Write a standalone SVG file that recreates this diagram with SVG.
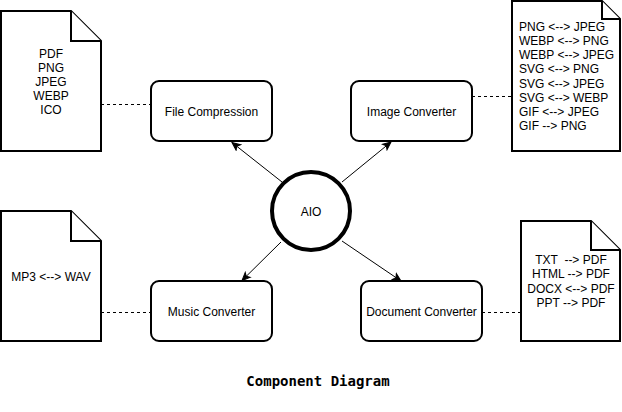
<svg xmlns="http://www.w3.org/2000/svg" width="622" height="412" viewBox="0 0 622 412">
<style>
.doc{fill:#fff;stroke:#000;stroke-width:2;stroke-linejoin:miter}
.box{fill:#fff;stroke:#000;stroke-width:2}
.t{font-family:"Liberation Sans",Arial,sans-serif;font-size:12px;fill:#000}
.c{text-anchor:middle}
.dash{stroke:#000;stroke-width:1;stroke-dasharray:3,3;fill:none}
.arr{stroke:#000;stroke-width:1;fill:none;marker-end:url(#ah)}
.title{font-family:"DejaVu Sans Mono","Liberation Mono",monospace;font-size:14px;font-weight:bold;text-anchor:middle;fill:#000}
</style>
<defs>
<marker id="ah" markerUnits="userSpaceOnUse" markerWidth="10" markerHeight="10" viewBox="0 0 10 10" refX="9" refY="5" orient="auto">
<path d="M1,1.5 L9,5 L1,8.5 L3,5 Z" fill="#000" stroke="#000" stroke-width="1"/>
</marker>
</defs>
<rect width="622" height="412" fill="#fff"/>
<g id="connectors">
<line class="dash" x1="101" y1="104.5" x2="151" y2="104.5"/>
<line class="dash" x1="472" y1="96.5" x2="512" y2="96.5"/>
<line class="dash" x1="101" y1="312.5" x2="151" y2="312.5"/>
<line class="dash" x1="482" y1="312.5" x2="521" y2="312.5"/>
<line class="arr" x1="282" y1="182" x2="232" y2="142.5"/>
<line class="arr" x1="342" y1="182" x2="391" y2="142"/>
<line class="arr" x1="281" y1="242" x2="242" y2="280.5"/>
<line class="arr" x1="342" y1="241" x2="401" y2="281"/>
</g>
<g id="doc-compression">
<path class="doc" d="M1,11 H71 L101,41 V151 H1 Z"/>
<path class="doc" d="M71,11 V41 H101" fill="none"/>
<text class="t c" x="51" y="57.5">PDF</text>
<text class="t c" x="51" y="71.5">PNG</text>
<text class="t c" x="51" y="85.5">JPEG</text>
<text class="t c" x="51" y="100">WEBP</text>
<text class="t c" x="51" y="114">ICO</text>
</g>
<g id="doc-image">
<path class="doc" d="M512,1 H602 L620,19 V151 H512 Z"/>
<path class="doc" d="M602,1 V19 H620" fill="none"/>
<text class="t" x="519" y="31">PNG &lt;--&gt; JPEG</text>
<text class="t" x="519" y="45.1">WEBP &lt;--&gt; PNG</text>
<text class="t" x="519" y="59.3">WEBP &lt;--&gt; JPEG</text>
<text class="t" x="519" y="73.4">SVG &lt;--&gt; PNG</text>
<text class="t" x="519" y="87.6">SVG &lt;--&gt; JPEG</text>
<text class="t" x="519" y="101.7">SVG &lt;--&gt; WEBP</text>
<text class="t" x="519" y="115.9">GIF &lt;--&gt; JPEG</text>
<text class="t" x="519" y="130">GIF --&gt; PNG</text>
</g>
<g id="doc-music">
<path class="doc" d="M1,211 H71 L101,241 V341 H1 Z"/>
<path class="doc" d="M71,211 V241 H101" fill="none"/>
<text class="t c" x="51" y="281">MP3 &lt;--&gt; WAV</text>
</g>
<g id="doc-document">
<path class="doc" d="M521,221 H591 L620,250 V341 H521 Z"/>
<path class="doc" d="M591,221 V250 H620" fill="none"/>
<text class="t c" x="571" y="264.3" xml:space="preserve">TXT  --&gt; PDF</text>
<text class="t c" x="571" y="278.4">HTML --&gt; PDF</text>
<text class="t c" x="571" y="292.5">DOCX &lt;--&gt; PDF</text>
<text class="t c" x="571" y="306.7">PPT --&gt; PDF</text>
</g>
<g id="file-compression">
<rect class="box" x="151" y="81" width="121" height="60" rx="8"/>
<text class="t c" x="211.5" y="115.5">File Compression</text>
</g>
<g id="image-converter">
<rect class="box" x="351" y="81" width="121" height="60" rx="8"/>
<text class="t c" x="411.5" y="115.5">Image Converter</text>
</g>
<g id="music-converter">
<rect class="box" x="151" y="281" width="121" height="60" rx="8"/>
<text class="t c" x="211.5" y="316">Music Converter</text>
</g>
<g id="document-converter">
<rect class="box" x="361" y="281" width="121" height="60" rx="8"/>
<text class="t c" x="421.5" y="316">Document Converter</text>
</g>
<g id="aio">
<circle cx="311" cy="211" r="39" fill="#fff" stroke="#000" stroke-width="4"/>
<text class="t c" x="311" y="216">AIO</text>
</g>
<g id="title">
<text class="title" x="318" y="386">Component Diagram</text>
</g>
</svg>
